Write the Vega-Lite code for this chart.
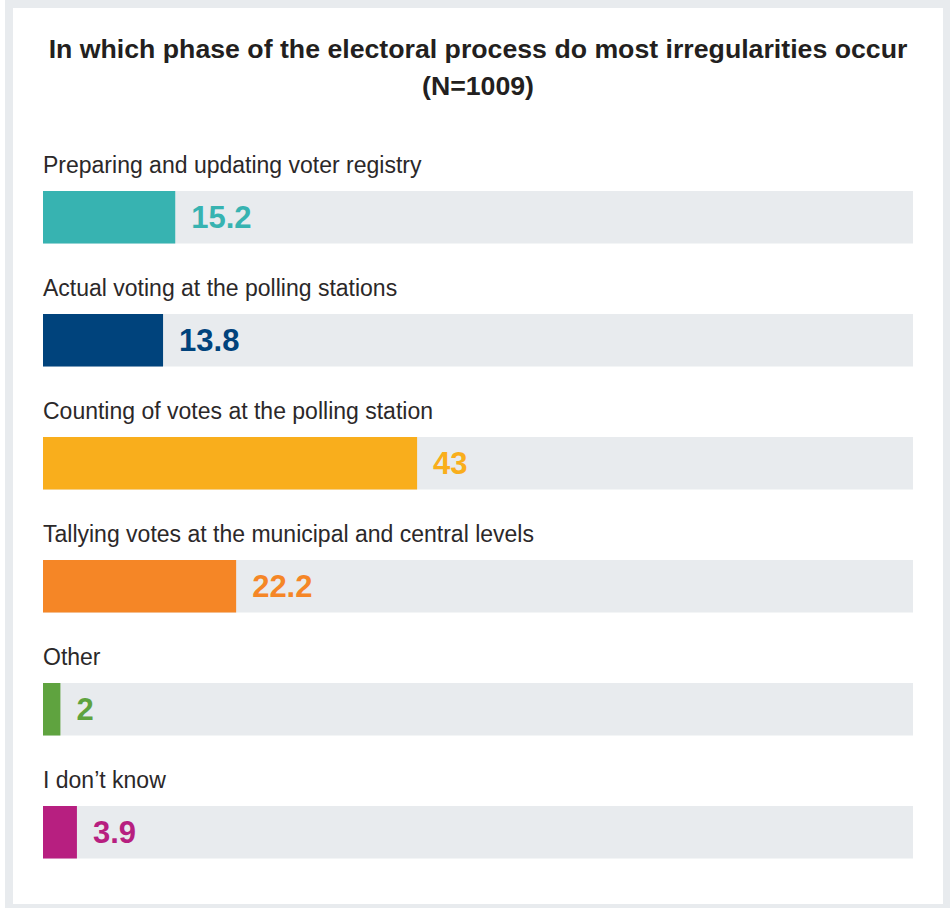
{
  "$schema": "https://vega.github.io/schema/vega-lite/v6.json",
  "width": 938,
  "height": 904,
  "autosize": {"type": "none"},
  "padding": {"left": 9, "top": 4, "right": 3, "bottom": 0},
  "background": "white",
  "config": {
    "view": {"stroke": "#e8ebee", "strokeWidth": 8, "fill": "white"},
    "axis": {"grid": false}
  },
  "title": {
    "text": ["In which phase of the electoral process do most irregularities occur", "(N=1009)"],
    "font": "Liberation Sans",
    "fontSize": 26.7,
    "fontWeight": "bold",
    "color": "#231f20",
    "anchor": "middle",
    "frame": "group",
    "lineHeight": 37,
    "offset": -97
  },
  "data": {
    "values": [
      {"category": "Preparing and updating voter registry", "value": 15.2},
      {"category": "Actual voting at the polling stations", "value": 13.8},
      {"category": "Counting of votes at the polling station", "value": 43},
      {"category": "Tallying votes at the municipal and central levels", "value": 22.2},
      {"category": "Other", "value": 2},
      {"category": "I don’t know", "value": 3.9}
    ]
  },
  "encoding": {
    "y": {
      "field": "category",
      "type": "nominal",
      "sort": null,
      "axis": null,
      "scale": {"range": [187, 854.5], "paddingInner": 0.573, "paddingOuter": 0}
    }
  },
  "layer": [
    {
      "mark": {"type": "bar", "color": "#e8ebee"},
      "encoding": {
        "x": {"datum": 0, "type": "quantitative", "scale": {"domain": [0, 100], "range": [34, 904]}, "axis": null},
        "x2": {"datum": 100}
      }
    },
    {
      "mark": {"type": "bar"},
      "encoding": {
        "x": {"field": "value", "type": "quantitative"},
        "x2": {"datum": 0},
        "color": {
          "field": "category",
          "type": "nominal",
          "legend": null,
          "scale": {
            "domain": ["Preparing and updating voter registry", "Actual voting at the polling stations", "Counting of votes at the polling station", "Tallying votes at the municipal and central levels", "Other", "I don’t know"],
            "range": ["#37b3b1", "#00437c", "#f9ae1c", "#f58626", "#5fa33f", "#b71f80"]
          }
        }
      }
    },
    {
      "mark": {"type": "text", "align": "left", "baseline": "middle", "dx": 16, "dy": 2, "font": "Liberation Sans", "fontSize": 31, "fontWeight": "bold"},
      "encoding": {
        "x": {"field": "value", "type": "quantitative"},
        "text": {"field": "value", "type": "quantitative"},
        "color": {"field": "category", "type": "nominal", "legend": null}
      }
    },
    {
      "mark": {"type": "text", "align": "left", "baseline": "middle", "dy": -51, "font": "Liberation Sans", "fontSize": 23, "color": "#2b2829"},
      "encoding": {
        "x": {"datum": 0, "type": "quantitative"},
        "text": {"field": "category", "type": "nominal"}
      }
    }
  ]
}
